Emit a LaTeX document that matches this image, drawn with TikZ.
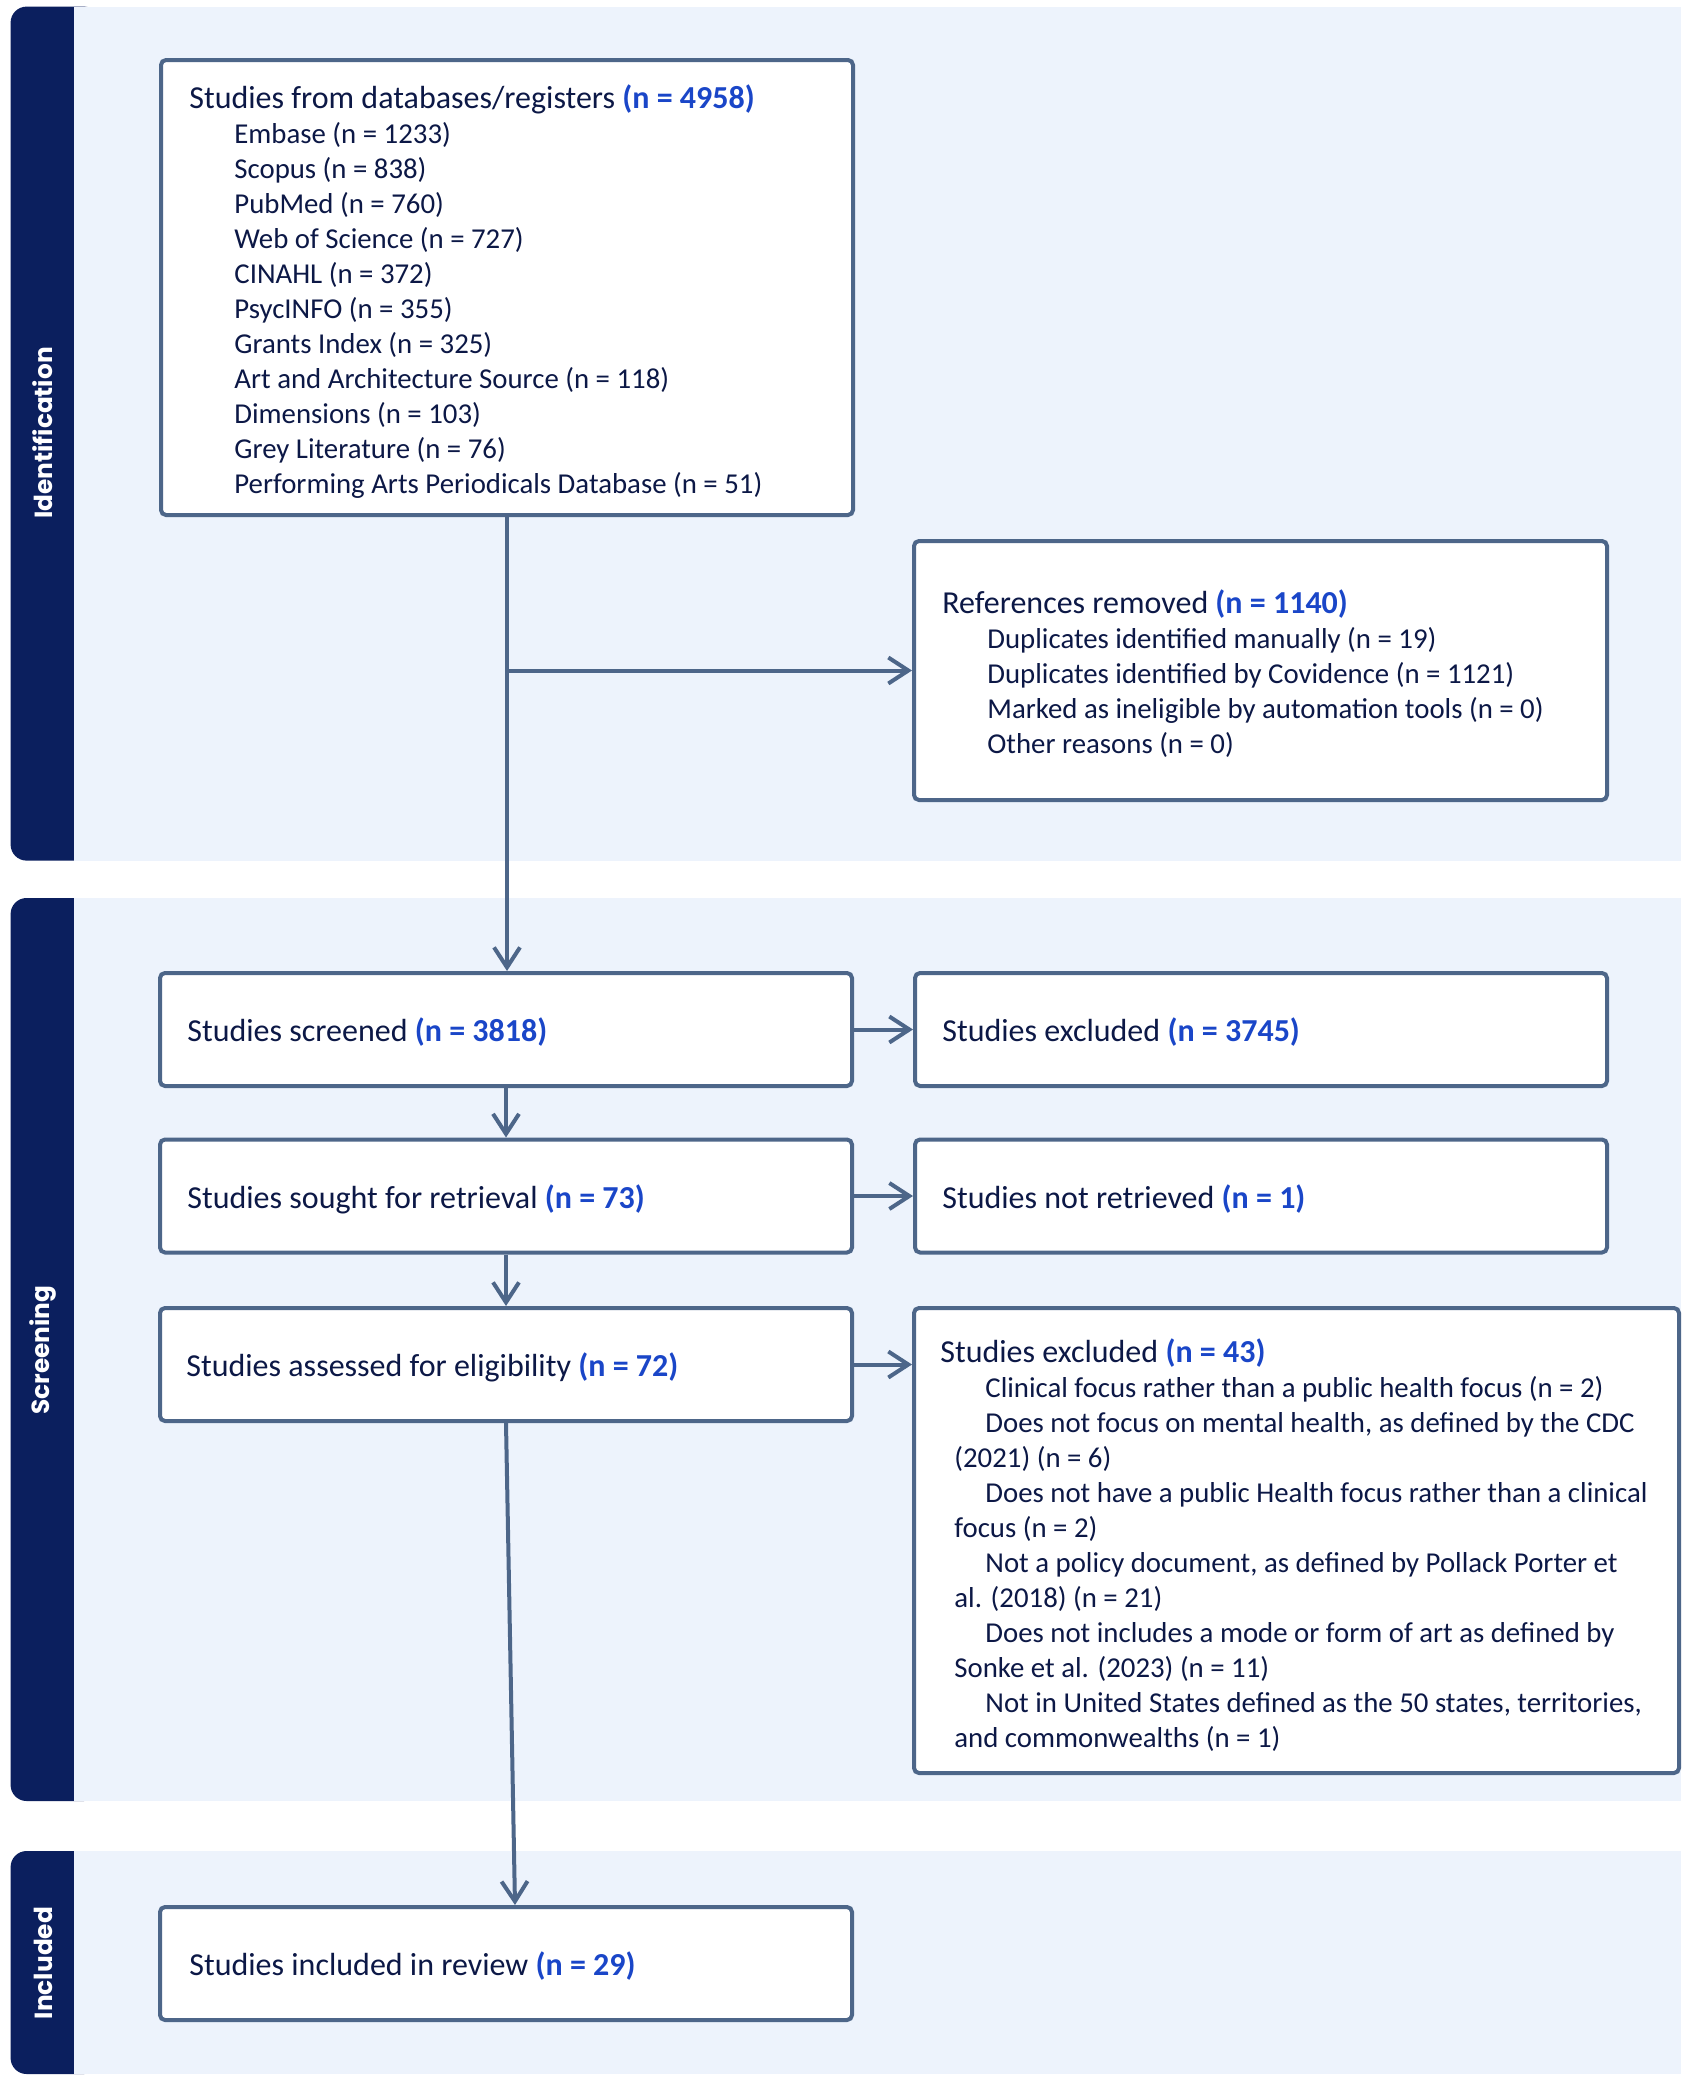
\documentclass[tikz,border=0pt]{standalone}
\usepackage{fontspec}
\setmainfont{Carlito}
\newfontfamily\labfont{Poppins}
\usetikzlibrary{arrows.meta,calc}
\definecolor{navy}{HTML}{0B1F5E}
\definecolor{bandbg}{HTML}{EDF3FC}
\definecolor{boxline}{HTML}{4D6689}
\definecolor{txtc}{HTML}{0C1846}
\definecolor{nblue}{HTML}{1A46C8}
\newcommand{\nb}[1]{\textbf{\textcolor{nblue}{#1}}}
\newcommand{\subf}{\fontsize{14.4}{17.5}\selectfont}
\newcommand{\ind}{\hspace*{22.5pt}\subf}
\newcommand{\wrp}{\hspace*{7pt}\subf}
\begin{document}
\begin{tikzpicture}[x=0.5pt,y=-0.5pt,
  box/.style={draw=boxline, line width=2pt, fill=white, rounded corners=2.5pt, minimum width=346pt, minimum height=56.5pt, inner sep=0pt},
  txt/.style={anchor=west, align=left, inner sep=0pt, text=txtc, font=\fontsize{16}{17.5}\selectfont},
  lab/.style={text=white, font=\labfont\bfseries\fontsize{12.4}{15}\selectfont, rotate=90, inner sep=0pt},
  arr/.style={draw=boxline, line width=2pt, -{Straight Barb[length=10pt,width=13pt,line width=2pt]}},
]
\useasboundingbox (0,0) rectangle (1688,2083);
\fill[white] (0,0) rectangle (1688,2083);
% bands
\fill[navy, rounded corners=8pt] (10.6,6.6) rectangle (100,860.6);
\fill[bandbg] (74.4,6.6) rectangle (1681,860.6);
\fill[navy, rounded corners=8pt] (10.6,898) rectangle (100,1801);
\fill[bandbg] (74.4,898) rectangle (1681,1801);
\fill[navy, rounded corners=8pt] (10.6,1851) rectangle (100,2074);
\fill[bandbg] (74.4,1851) rectangle (1681,2074);
\node[lab] (lid) at (43,433) {Identification};
\node[lab] (lsc) at (43,1350) {Screening};
\node[lab] (lin) at (43,1963) {Included};
% boxes
\node[box, minimum height=227.5pt] (b1) at (507,287.5) {};
\node[box, minimum width=346.5pt, minimum height=129.5pt] (rem) at (1260.5,670.5) {};
\node[box] (scr) at (506,1029.5) {};
\node[box] (exc) at (1261,1029.5) {};
\node[box] (sou) at (506,1196) {};
\node[box] (nre) at (1261,1196) {};
\node[box] (ass) at (506,1364.5) {};
\node[box, minimum width=382.5pt, minimum height=232.5pt] (exb) at (1296.5,1540.5) {};
\node[box] (inc) at (506,1963.5) {};
% texts
\node[txt] (t1) at (189,292) {Studies from databases/registers \nb{(n = 4958)}\\
\ind Embase (n = 1233)\\
\ind Scopus (n = 838)\\
\ind PubMed (n = 760)\\
\ind Web of Science (n = 727)\\
\ind CINAHL (n = 372)\\
\ind PsycINFO (n = 355)\\
\ind Grants Index (n = 325)\\
\ind Art and Architecture Source (n = 118)\\
\ind Dimensions (n = 103)\\
\ind Grey Literature (n = 76)\\
\ind Performing Arts Periodicals Database (n = 51)};
\node[txt] (t2) at (942,674) {References removed \nb{(n = 1140)}\\
\ind Duplicates identified manually (n = 19)\\
\ind Duplicates identified by Covidence (n = 1121)\\
\ind Marked as ineligible by automation tools (n = 0)\\
\ind Other reasons (n = 0)};
\node[txt] (t3) at (187,1032) {Studies screened \nb{(n = 3818)}};
\node[txt] (t4) at (942,1032) {Studies excluded \nb{(n = 3745)}};
\node[txt] (t5) at (187,1199) {Studies sought for retrieval \nb{(n = 73)}};
\node[txt] (t6) at (942,1199) {Studies not retrieved \nb{(n = 1)}};
\node[txt] (t7) at (186,1367) {Studies assessed for eligibility \nb{(n = 72)}};
\node[txt] (t8) at (940,1545) {Studies excluded \nb{(n = 43)}\\
\ind Clinical focus rather than a public health focus (n = 2)\\
\ind Does not focus on mental health, as defined by the CDC\\
\wrp (2021) (n = 6)\\
\ind Does not have a public Health focus rather than a clinical\\
\wrp focus (n = 2)\\
\ind Not a policy document, as defined by Pollack Porter et\\
\wrp al. (2018) (n = 21)\\
\ind Does not includes a mode or form of art as defined by\\
\wrp Sonke et al. (2023) (n = 11)\\
\ind Not in United States defined as the 50 states, territories,\\
\wrp and commonwealths (n = 1)};
\node[txt] (t9) at (189,1966) {Studies included in review \nb{(n = 29)}};
% arrows
\coordinate (br) at (b1.south |- rem.west);
\draw[arr] (b1.south) -- (b1.south |- scr.north);
\draw[arr] (br) -- (rem.west);
\draw[arr] (scr.east) -- (exc.west);
\draw[arr] (sou.east) -- (nre.west);
\draw[arr] (ass.east) -- (exb.west |- ass.east);
\draw[arr] (scr.south) -- (sou.north);
\draw[arr] (sou.south) -- (ass.north);
\draw[arr] (ass.south) -- ([xshift=4.5pt]inc.north);
\end{tikzpicture}
\end{document}
